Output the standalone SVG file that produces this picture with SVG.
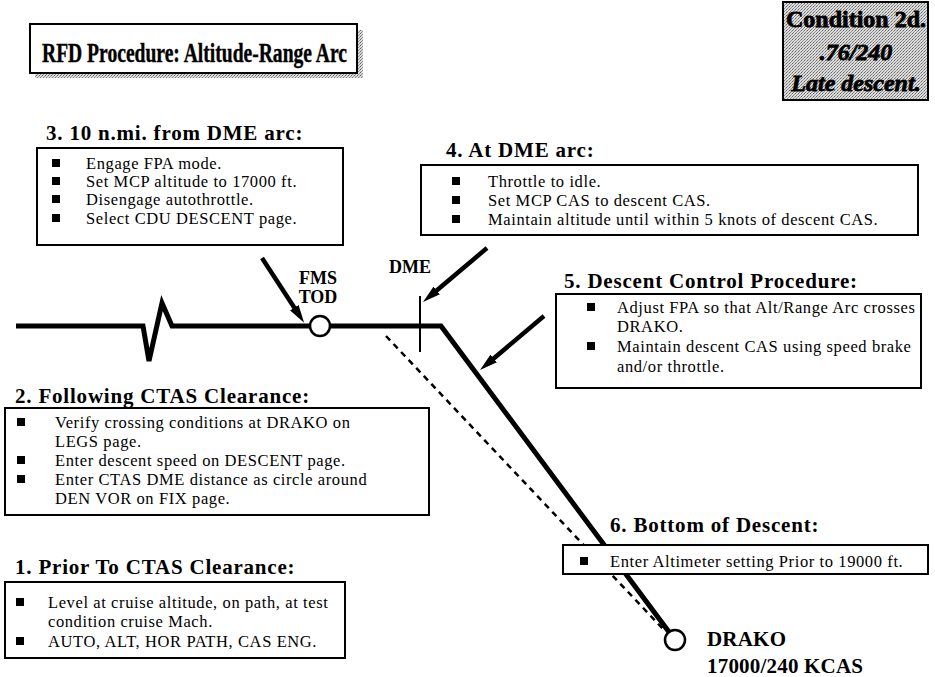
<svg xmlns="http://www.w3.org/2000/svg" width="935" height="677" viewBox="0 0 935 677">
  <defs>
    <pattern id="stipple" width="3" height="3" patternUnits="userSpaceOnUse">
      <rect width="3" height="3" fill="#dadada"/>
      <rect x="0" y="0" width="1" height="1" fill="#666"/>
      <rect x="2" y="1" width="1" height="1" fill="#999"/>
      <rect x="1" y="2" width="1" height="1" fill="#888"/>
    </pattern>
    <marker id="head" viewBox="0 0 18 10" refX="4" refY="5" markerWidth="18" markerHeight="10" markerUnits="userSpaceOnUse" orient="auto">
      <path d="M0,0 L18,5 L0,10 Z" fill="#000"/>
    </marker>
  </defs>
  <style>
    text { font-family: "Liberation Serif", "Times New Roman", serif; fill: #000; }
    .title { font-size: 28px; font-weight: bold; stroke: #000; stroke-width: 0.4; }
    .cond { font-size: 24px; font-weight: bold; text-anchor: middle; stroke: #000; stroke-width: 0.8; }
    .ital { font-style: italic; }
    .head { font-size: 21px; font-weight: bold; letter-spacing: 0.8px; }
    .body { font-size: 16.5px; letter-spacing: 0.6px; }
    .lbl { font-size: 18px; font-weight: bold; }
    .big { font-size: 21px; font-weight: bold; letter-spacing: 0.2px; }
    .box { fill: #fff; stroke: #000; stroke-width: 2; }
    .bul { fill: #000; }
    .path { fill: none; stroke: #000; stroke-width: 5; stroke-linejoin: miter; }
    .wp { fill: #fff; stroke: #000; stroke-width: 2.5; }
    .arrow { stroke: #000; stroke-width: 4.5; marker-end: url(#head); }
  </style>

  <rect width="935" height="677" fill="#fff"/>

  <!-- title with drop shadow -->
  <g id="title">
    <rect x="35" y="30" width="328" height="48" fill="url(#stipple)"/>
    <rect x="30" y="24" width="327" height="49" class="box" stroke-width="2.5"/>
    <text x="42" y="62" class="title" textLength="305" lengthAdjust="spacingAndGlyphs">RFD Procedure: Altitude-Range Arc</text>
  </g>

  <!-- test condition tag -->
  <g id="condition">
    <rect x="783" y="2" width="145" height="98" fill="url(#stipple)" stroke="#000" stroke-width="2"/>
    <text x="856" y="27" class="cond">Condition 2d.</text>
    <text x="856" y="60" class="cond ital">.76/240</text>
    <text x="856" y="91" class="cond ital">Late descent.</text>
  </g>

  <!-- flight path profile and arrows -->
  <g id="connectors">
    <polyline class="path" points="16,326 143,326 149,361 162,303 172,326 310,326"/>
    <polyline class="path" points="330,326 441,326 669,632"/>
    <line x1="386" y1="336" x2="664" y2="630" stroke="#000" stroke-width="2.5" stroke-dasharray="6,5"/>
    <line x1="420" y1="296" x2="420" y2="352" stroke="#000" stroke-width="2"/>
    <line x1="262" y1="258" x2="296.5" y2="311" class="arrow"/>
    <line x1="487" y1="248" x2="433.7" y2="293" class="arrow"/>
    <line x1="544" y1="316" x2="490.7" y2="361" class="arrow"/>
  </g>

  <g id="fms-tod">
    <circle cx="320" cy="326" r="10" class="wp"/>
    <text x="318" y="284" class="lbl" text-anchor="middle">FMS</text>
    <text x="318" y="303" class="lbl" text-anchor="middle">TOD</text>
  </g>

  <g id="dme">
    <text x="410" y="273" class="lbl" text-anchor="middle">DME</text>
  </g>

  <g id="drako">
    <circle cx="675" cy="640" r="10" class="wp"/>
    <text x="707" y="646" class="big">DRAKO</text>
    <text x="707" y="673" class="big">17000/240 KCAS</text>
  </g>

  <!-- step 3 -->
  <g id="step3">
    <text x="46" y="140" class="head">3. 10 n.mi. from DME arc:</text>
    <rect x="37" y="148" width="306" height="97" class="box"/>
    <rect x="52" y="159" width="8" height="8" class="bul"/>
    <rect x="52" y="177" width="8" height="8" class="bul"/>
    <rect x="52" y="195" width="8" height="8" class="bul"/>
    <rect x="52" y="214" width="8" height="8" class="bul"/>
    <text x="86" y="169" class="body">Engage FPA mode.</text>
    <text x="86" y="187" class="body">Set MCP altitude to 17000 ft.</text>
    <text x="86" y="205" class="body">Disengage autothrottle.</text>
    <text x="86" y="224" class="body">Select CDU DESCENT page.</text>
  </g>

  <!-- step 4 -->
  <g id="step4">
    <text x="446" y="157" class="head">4. At DME arc:</text>
    <rect x="421" y="165" width="497" height="70" class="box"/>
    <rect x="452" y="177" width="8" height="8" class="bul"/>
    <rect x="452" y="196" width="8" height="8" class="bul"/>
    <rect x="452" y="215" width="8" height="8" class="bul"/>
    <text x="488" y="187" class="body">Throttle to idle.</text>
    <text x="488" y="206" class="body">Set MCP CAS to descent CAS.</text>
    <text x="488" y="225" class="body">Maintain altitude until within 5 knots of descent CAS.</text>
  </g>

  <!-- step 5 -->
  <g id="step5">
    <text x="564" y="288" class="head">5. Descent Control Procedure:</text>
    <rect x="556" y="294" width="365" height="94" class="box"/>
    <rect x="587" y="303" width="8" height="8" class="bul"/>
    <rect x="587" y="342" width="8" height="8" class="bul"/>
    <text x="617" y="313" class="body">Adjust FPA so that Alt/Range Arc crosses</text>
    <text x="617" y="332" class="body">DRAKO.</text>
    <text x="617" y="352" class="body">Maintain descent CAS using speed brake</text>
    <text x="617" y="372" class="body">and/or throttle.</text>
  </g>

  <!-- step 2 -->
  <g id="step2">
    <text x="15" y="403" class="head">2. Following CTAS Clearance:</text>
    <rect x="5" y="408" width="424" height="107" class="box"/>
    <rect x="17" y="418" width="8" height="8" class="bul"/>
    <rect x="17" y="456" width="8" height="8" class="bul"/>
    <rect x="17" y="475" width="8" height="8" class="bul"/>
    <text x="55" y="428" class="body">Verify crossing conditions at DRAKO on</text>
    <text x="55" y="447" class="body">LEGS page.</text>
    <text x="55" y="466" class="body">Enter descent speed on DESCENT page.</text>
    <text x="55" y="485" class="body">Enter CTAS DME distance as circle around</text>
    <text x="55" y="504" class="body">DEN VOR on FIX page.</text>
  </g>

  <!-- step 6 -->
  <g id="step6">
    <text x="610" y="532" class="head">6. Bottom of Descent:</text>
    <rect x="563" y="545" width="365" height="29" class="box"/>
    <rect x="580" y="557" width="8" height="8" class="bul"/>
    <text x="610" y="567" class="body">Enter Altimeter setting Prior to  19000 ft.</text>
  </g>

  <!-- step 1 -->
  <g id="step1">
    <text x="15" y="574" class="head">1. Prior To CTAS Clearance:</text>
    <rect x="5" y="582" width="340" height="76" class="box"/>
    <rect x="16" y="598" width="8" height="8" class="bul"/>
    <rect x="16" y="637" width="8" height="8" class="bul"/>
    <text x="48" y="608" class="body">Level at cruise altitude, on path, at test</text>
    <text x="48" y="627" class="body">condition cruise Mach.</text>
    <text x="48" y="647" class="body">AUTO, ALT, HOR PATH, CAS ENG.</text>
  </g>
</svg>
